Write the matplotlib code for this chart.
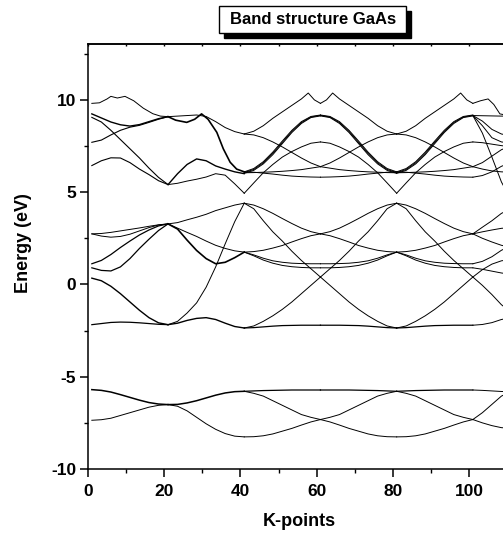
import numpy as np
import matplotlib
matplotlib.use('Agg')
import matplotlib.pyplot as plt
from matplotlib.patches import Rectangle

# k offsets inside one 20-point segment (values below are read at these k)
k_step = [0, 2.5, 5, 7.5, 10, 12.5, 15, 17.5, 20]
k_step6 = [0, 2.5, 5, 7.5, 10]

# segment 1: k = 1 .. 21
seg1 = [
    [9.24, 9.02, 8.80, 8.65, 8.58, 8.66, 8.82, 8.98, 9.09],
    [7.70, 7.82, 8.10, 8.35, 8.52, 8.62, 8.78, 8.95, 9.09],
    [9.05, 8.80, 8.35, 7.85, 7.35, 6.85, 6.30, 5.80, 5.41],
    [6.44, 6.70, 6.86, 6.85, 6.60, 6.25, 5.95, 5.62, 5.41],
    [2.74, 2.76, 2.82, 2.90, 2.98, 3.06, 3.15, 3.23, 3.28],
    [2.74, 2.62, 2.56, 2.60, 2.72, 2.90, 3.08, 3.22, 3.28],
    [1.12, 1.30, 1.62, 2.00, 2.35, 2.68, 2.95, 3.17, 3.28],
    [0.90, 0.76, 0.73, 0.95, 1.40, 1.95, 2.45, 2.92, 3.28],
    [0.34, 0.20, -0.10, -0.50, -0.95, -1.40, -1.80, -2.08, -2.18],
    [-2.18, -2.12, -2.06, -2.04, -2.05, -2.08, -2.12, -2.16, -2.18],
    [-7.36, -7.33, -7.25, -7.10, -6.95, -6.80, -6.65, -6.55, -6.51],
    [-5.70, -5.74, -5.83, -5.97, -6.12, -6.27, -6.40, -6.48, -6.51],
]
seg1_lw = [1.0, 0.8, 0.8, 0.8, 0.7, 0.7, 0.9, 0.9, 1.0, 0.9, 0.7, 1.1]

top1_k = [1, 3, 5, 6, 7.7, 9.7, 12, 14.5, 17, 19, 21]
top1_e = [9.81, 9.84, 10.05, 10.19, 10.10, 10.19, 9.95, 9.55, 9.25, 9.12, 9.09]

# segment 2: k = 21 .. 41
seg2 = [
    [9.09, 9.12, 9.15, 9.18, 9.10, 8.82, 8.50, 8.28, 8.15],
    [5.41, 6.00, 6.50, 6.80, 6.70, 6.42, 6.25, 6.10, 6.00],
    [5.41, 5.48, 5.60, 5.70, 5.82, 6.00, 5.92, 5.45, 4.94],
    [3.28, 3.35, 3.50, 3.64, 3.80, 4.00, 4.15, 4.30, 4.40],
    [3.28, 3.00, 2.40, 1.84, 1.40, 1.12, 1.20, 1.45, 1.75],
    [3.28, 3.05, 2.82, 2.60, 2.35, 2.12, 1.95, 1.82, 1.75],
    [-2.18, -2.00, -1.55, -1.00, -0.15, 0.95, 2.20, 3.40, 4.40],
    [-2.18, -2.10, -1.95, -1.84, -1.80, -1.90, -2.10, -2.28, -2.36],
    [-6.51, -6.60, -6.85, -7.20, -7.55, -7.85, -8.08, -8.22, -8.26],
    [-6.51, -6.50, -6.42, -6.30, -6.15, -6.00, -5.88, -5.81, -5.79],
]
seg2_lw = [0.7, 1.0, 0.7, 0.7, 1.2, 0.7, 0.7, 1.0, 0.7, 1.1]

peak2_k = [21, 23, 25.9, 28, 29.8, 31.5, 33.8, 35.5, 37.3, 39, 41]
peak2_e = [9.09, 8.90, 8.78, 8.95, 9.24, 8.95, 8.24, 7.35, 6.62, 6.25, 6.10]

# segment 3: k = 41 .. 61 (the picture repeats it mirrored 61..81 and again 81..101)
seg3 = [
    [8.15, 8.10, 7.95, 7.72, 7.45, 7.15, 6.85, 6.58, 6.38],
    [6.05, 6.06, 6.08, 6.10, 6.13, 6.17, 6.22, 6.30, 6.38],
    [6.02, 6.18, 6.53, 7.03, 7.63, 8.23, 8.72, 9.04, 9.13],
    [6.06, 6.23, 6.59, 7.10, 7.70, 8.29, 8.77, 9.07, 9.16],
    [6.10, 6.28, 6.65, 7.17, 7.77, 8.35, 8.82, 9.10, 9.18],
    [4.94, 5.50, 6.05, 6.50, 6.90, 7.20, 7.45, 7.65, 7.72],
    [6.10, 6.08, 6.03, 5.98, 5.92, 5.87, 5.84, 5.82, 5.81],
    [4.40, 4.30, 4.10, 3.85, 3.57, 3.30, 3.05, 2.86, 2.74],
    [1.75, 1.78, 1.85, 1.97, 2.11, 2.30, 2.48, 2.64, 2.74],
    [4.40, 4.10, 3.45, 2.85, 2.35, 1.80, 1.30, 0.85, 0.40],
    [-2.36, -2.25, -2.00, -1.70, -1.35, -0.95, -0.50, -0.05, 0.40],
    [1.75, 1.60, 1.42, 1.28, 1.20, 1.15, 1.13, 1.12, 1.12],
    [1.75, 1.55, 1.32, 1.15, 1.03, 0.96, 0.92, 0.90, 0.90],
    [-2.36, -2.34, -2.30, -2.26, -2.23, -2.22, -2.21, -2.21, -2.21],
    [-8.26, -8.25, -8.20, -8.10, -7.95, -7.80, -7.62, -7.45, -7.32],
    [-5.79, -5.77, -5.75, -5.74, -5.73, -5.72, -5.72, -5.72, -5.72],
    [-5.79, -5.90, -6.05, -6.30, -6.55, -6.80, -7.05, -7.20, -7.32],
]
seg3_lw = [0.7, 0.7, 0.7, 0.7, 0.7, 0.7, 0.7, 0.7, 0.7, 0.7, 0.7, 0.7, 0.7, 0.9, 0.7, 0.9, 0.7]

top3_k = [41, 43.5, 46, 48.5, 51, 53.5, 56, 57.8, 59.4, 61]
top3_e = [8.15, 8.30, 8.60, 9.00, 9.35, 9.70, 10.05, 10.37, 10.00, 9.81]

# segment 6: k = 101 .. 111 (runs past the right edge)
seg6 = [
    [9.15, 9.14, 9.13, 9.12, 9.12],
    [9.15, 8.85, 8.40, 8.15, 8.05],
    [9.15, 8.60, 7.95, 7.72, 7.65],
    [9.15, 8.20, 6.90, 5.55, 4.60],
    [7.72, 7.68, 7.60, 7.52, 7.45],
    [6.38, 6.60, 6.95, 7.30, 7.50],
    [6.38, 6.25, 6.15, 6.10, 6.08],
    [5.81, 5.90, 6.10, 6.40, 6.60],
    [2.74, 3.10, 3.45, 3.85, 4.10],
    [2.74, 2.50, 2.30, 2.12, 2.00],
    [2.74, 2.85, 2.95, 3.04, 3.08],
    [1.12, 1.25, 1.50, 1.85, 2.10],
    [0.90, 0.82, 0.72, 0.62, 0.55],
    [0.40, 0.80, 1.10, 1.28, 1.35],
    [0.40, -0.05, -0.55, -1.10, -1.50],
    [-2.21, -2.17, -2.07, -1.90, -1.80],
    [-7.32, -6.95, -6.50, -6.05, -5.80],
    [-5.72, -5.74, -5.77, -5.80, -5.82],
    [-7.32, -7.50, -7.65, -7.76, -7.80],
]

top6_k = [101, 103, 105, 106.5, 108.1, 111]
top6_e = [9.81, 9.95, 10.05, 9.75, 9.24, 9.12]

plt.rcParams['font.family'] = ['Liberation Sans', 'DejaVu Sans']
plt.rcParams['font.weight'] = 'bold'
plt.rcParams['axes.unicode_minus'] = False

fig = plt.figure(figsize=(5.03, 5.36), dpi=100)
ax = fig.add_axes([0.175, 0.125, 0.8446, 0.792])

ks = np.array(k_step)
ks6 = np.array(k_step6)
col = 'black'

# segment 1
for band, lw in zip(seg1, seg1_lw):
    ax.plot(1 + ks, band, color=col, lw=lw)
ax.plot(top1_k, top1_e, color=col, lw=0.7)

# segment 2
for band, lw in zip(seg2, seg2_lw):
    ax.plot(21 + ks, band, color=col, lw=lw)
ax.plot(peak2_k, peak2_e, color=col, lw=1.2)

# segments 3, 4 (mirror) and 5 (repeat)
for band, lw in zip(seg3, seg3_lw):
    ax.plot(41 + ks, band, color=col, lw=lw)
    ax.plot(81 - ks, band, color=col, lw=lw)
    ax.plot(81 + ks, band, color=col, lw=lw)
t3 = np.array(top3_k)
ax.plot(t3, top3_e, color=col, lw=0.7)
ax.plot(122 - t3, top3_e, color=col, lw=0.7)
ax.plot(t3 + 40, top3_e, color=col, lw=0.7)

# segment 6
for band in seg6:
    ax.plot(101 + ks6, band, color=col, lw=0.7)
ax.plot(top6_k, top6_e, color=col, lw=0.7)

ax.set_xlim(0, 111.5)
ax.set_ylim(-10, 13)
ax.set_xticks([0, 20, 40, 60, 80, 100])
ax.set_xticks([10, 30, 50, 70, 90, 110], minor=True)
ax.set_yticks([-10, -5, 0, 5, 10])
ax.set_yticks([-7.5, -2.5, 2.5, 7.5, 12.5], minor=True)
ax.tick_params(which='major', direction='out', length=5.5, width=1.1, labelsize=12.5, pad=3)
ax.tick_params(which='minor', direction='out', length=3, width=1.0)
ax.tick_params(axis='x', which='major', pad=5)
ax.spines['right'].set_visible(False)
for s in ['left', 'bottom', 'top']:
    ax.spines[s].set_linewidth(1.1)

sec = ax.secondary_xaxis('top')
sec.set_xticks(list(range(0, 120, 10)))
sec.set_xticklabels([])
sec.tick_params(direction='in', length=1.5, width=1.0)
sec.spines['top'].set_linewidth(1.1)

ax.set_xlabel('K-points', fontsize=13, fontweight='bold')
ax.set_ylabel('Energy (eV)', fontsize=13, fontweight='bold')
ax.xaxis.set_label_coords(0.497, -0.104)
ax.yaxis.set_label_coords(-0.132, 0.532)

# title box with drop shadow
fig.patches.append(Rectangle((0.4463, 0.9285), 0.371, 0.0509, transform=fig.transFigure,
                             facecolor='black', edgecolor='black', zorder=5))
fig.patches.append(Rectangle((0.436, 0.9379), 0.371, 0.0509, transform=fig.transFigure,
                             facecolor='white', edgecolor='black', lw=1.0, zorder=6))
fig.text(0.6216, 0.9633, 'Band structure GaAs', ha='center', va='center',
         fontsize=12, fontweight='bold', zorder=7)

fig.savefig('out.png', dpi=100)
